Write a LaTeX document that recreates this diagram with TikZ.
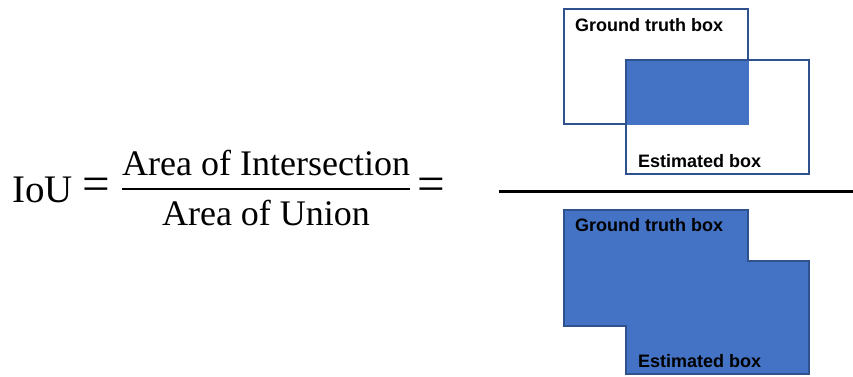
\documentclass[tikz,border=0pt]{standalone}
\usepackage{fontspec}
\setmainfont{Liberation Serif}
\newfontfamily\labelfont{Liberation Sans}
\definecolor{boxfill}{HTML}{4472C4}
\definecolor{boxline}{HTML}{2F528F}
\begin{document}
\begin{tikzpicture}[x=1pt,y=-1pt,
  boxedge/.style={draw=boxline,line width=2.5pt},
  boxlabel/.style={anchor=base west,inner sep=0pt,font=\labelfont\bfseries\fontsize{18}{20}\selectfont},
  formula/.style={inner sep=0pt,font=\fontsize{36}{38}\selectfont},
  bigtext/.style={inner sep=0pt,font=\fontsize{39}{42}\selectfont},
  eqsign/.style={inner sep=0pt,font=\fontsize{49}{52}\selectfont}]
\useasboundingbox (0,0) rectangle (853,376);

% left-hand side of the equation
\node[bigtext,anchor=base west] (iou) at (12,202) {IoU};
\node[eqsign,anchor=center] (eqa) at (96,189) {=};
\node[formula,anchor=base west] (num) at (122,175) {Area of Intersection};
\node[formula,anchor=base] (den) at (266,225) {Area of Union};
\coordinate (barl) at (122,189);
\coordinate (barr) at (410,189);
\draw[line width=2.5pt] (barl) -- (barr);
\node[eqsign,anchor=center] (eqb) at (431,189) {=};

% fraction bar of the picture fraction
\coordinate (picl) at (499,191.5);
\coordinate (picr) at (853,191.5);
\draw[line width=3pt] (picl) -- (picr);

% numerator: two overlapping boxes, intersection filled
\coordinate (gt1) at (564,9);
\coordinate (gt2) at (748,124);
\coordinate (es1) at (626,60);
\coordinate (es2) at (809,174);
\draw[boxedge,fill=white] (gt1) rectangle (gt2);
\fill[boxfill] (626,60) rectangle (749.3,125.3);
\draw[boxedge] (es1) rectangle (es2);
\node[boxlabel] (gtlabel) at (575,31.5) {Ground truth box};
\node[boxlabel] (eslabel) at (638,167) {Estimated box};

% denominator: union of the two boxes
\draw[boxedge,fill=boxfill] (564,210) -- (748,210) -- (748,261) -- (809,261)
  -- (809,374) -- (626,374) -- (626,326) -- (564,326) -- cycle;
\node[boxlabel] (gtlabelb) at (575,231) {Ground truth box};
\node[boxlabel] (eslabelb) at (638,367) {Estimated box};
\end{tikzpicture}
\end{document}
